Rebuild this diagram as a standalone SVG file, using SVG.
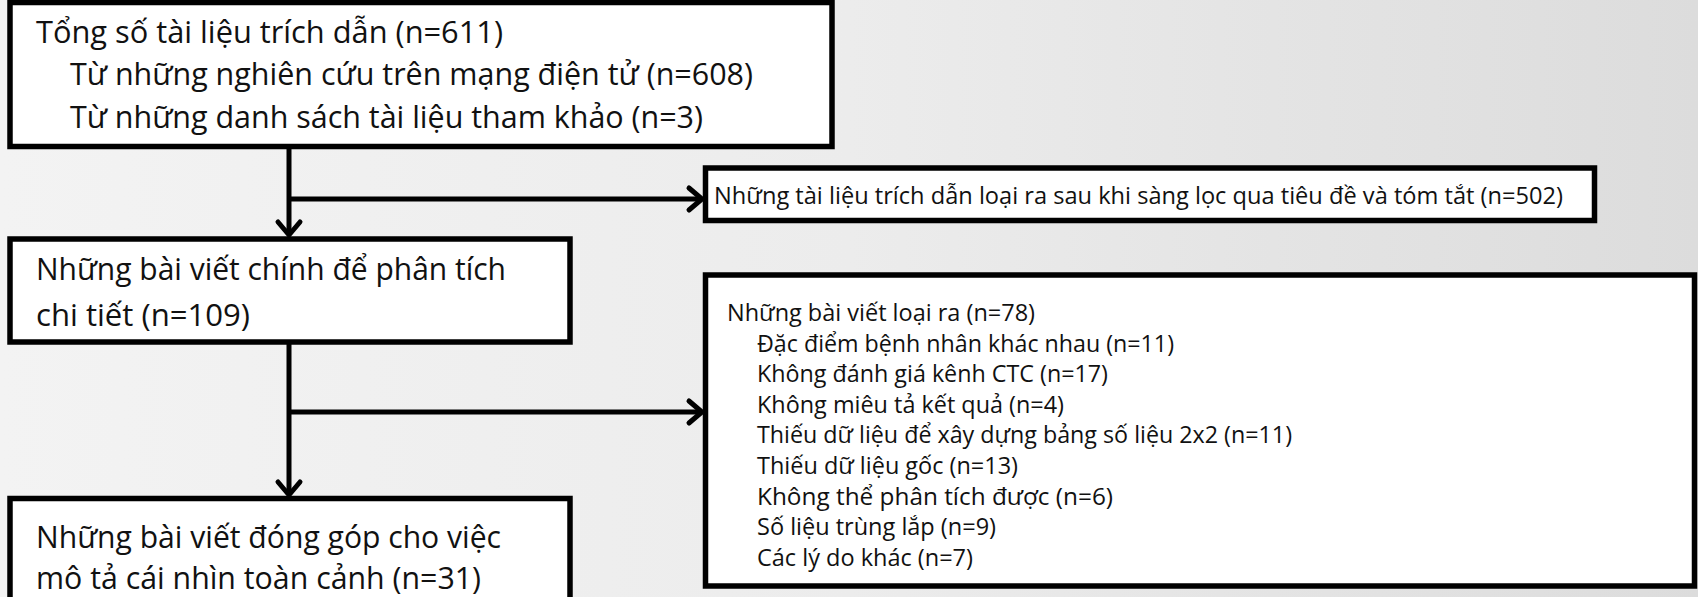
<svg xmlns="http://www.w3.org/2000/svg" width="1698" height="597" viewBox="0 0 1698 597">
<defs>
<linearGradient id="bg" x1="0" y1="0" x2="1" y2="0">
<stop offset="0" stop-color="#f3f3f3"/>
<stop offset="0.5" stop-color="#ececec"/>
<stop offset="1" stop-color="#dcdcdc"/>
</linearGradient>
<marker id="chev" markerUnits="userSpaceOnUse" markerWidth="40" markerHeight="40" refX="0" refY="0" viewBox="-20 -20 40 40" orient="auto" overflow="visible">
<path d="M -13 -11 L 0 0 L -13 11" fill="none" stroke="#000" stroke-width="5" stroke-linecap="round" stroke-linejoin="miter"/>
</marker>
<style>
.box{fill:#fff;stroke:#000;stroke-width:5.5}
.t{font-family:"Open Sans","Noto Sans","DejaVu Sans",sans-serif;fill:#111}
.big{font-size:31.5px}
.small{font-size:24px}
.conn{fill:none;stroke:#000;stroke-width:5}
</style>
</defs>
<rect x="0" y="0" width="1698" height="597" fill="url(#bg)"/>

<g id="connectors">
<line class="conn" x1="289" y1="148" x2="289" y2="235" marker-end="url(#chev)"/>
<line class="conn" x1="289" y1="199" x2="702" y2="199" marker-end="url(#chev)"/>
<line class="conn" x1="289" y1="344" x2="289" y2="495" marker-end="url(#chev)"/>
<line class="conn" x1="289" y1="412" x2="702" y2="412" marker-end="url(#chev)"/>
</g>

<g id="node-total">
<rect class="box" x="10" y="2.5" width="822" height="144"/>
<text class="t big" x="36" y="43" textLength="467" lengthAdjust="spacingAndGlyphs">Tổng số tài liệu trích dẫn (n=611)</text>
<text class="t big" x="70" y="85" textLength="683" lengthAdjust="spacingAndGlyphs">Từ những nghiên cứu trên mạng điện tử (n=608)</text>
<text class="t big" x="70" y="128" textLength="633" lengthAdjust="spacingAndGlyphs">Từ những danh sách tài liệu tham khảo (n=3)</text>
</g>

<g id="node-excluded-screening">
<rect class="box" x="705.5" y="168" width="889" height="52.5"/>
<text class="t small" x="714" y="204" textLength="849" lengthAdjust="spacingAndGlyphs">Những tài liệu trích dẫn loại ra sau khi sàng lọc qua tiêu đề và tóm tắt (n=502)</text>
</g>

<g id="node-fulltext">
<rect class="box" x="10" y="239" width="560" height="103"/>
<text class="t big" x="36" y="280" textLength="470" lengthAdjust="spacingAndGlyphs">Những bài viết chính để phân tích</text>
<text class="t big" x="36" y="326" textLength="214" lengthAdjust="spacingAndGlyphs">chi tiết (n=109)</text>
</g>

<g id="node-excluded-articles">
<rect class="box" x="705.5" y="275" width="989" height="311"/>
<text class="t small" x="727" y="321" textLength="308" lengthAdjust="spacingAndGlyphs">Những bài viết loại ra (n=78)</text>
<text class="t small" x="757" y="351.6" textLength="417" lengthAdjust="spacingAndGlyphs">Đặc điểm bệnh nhân khác nhau (n=11)</text>
<text class="t small" x="757" y="382.2" textLength="351" lengthAdjust="spacingAndGlyphs">Không đánh giá kênh CTC (n=17)</text>
<text class="t small" x="757" y="412.8" textLength="307" lengthAdjust="spacingAndGlyphs">Không miêu tả kết quả (n=4)</text>
<text class="t small" x="757" y="443.4" textLength="535" lengthAdjust="spacingAndGlyphs">Thiếu dữ liệu để xây dựng bảng số liệu 2x2 (n=11)</text>
<text class="t small" x="757" y="474" textLength="261" lengthAdjust="spacingAndGlyphs">Thiếu dữ liệu gốc (n=13)</text>
<text class="t small" x="757" y="504.6" textLength="356" lengthAdjust="spacingAndGlyphs">Không thể phân tích được (n=6)</text>
<text class="t small" x="757" y="535.2" textLength="239" lengthAdjust="spacingAndGlyphs">Số liệu trùng lắp (n=9)</text>
<text class="t small" x="757" y="565.8" textLength="216" lengthAdjust="spacingAndGlyphs">Các lý do khác (n=7)</text>
</g>

<g id="node-included">
<rect class="box" x="10" y="498.5" width="560" height="120"/>
<text class="t big" x="36" y="548" textLength="465" lengthAdjust="spacingAndGlyphs">Những bài viết đóng góp cho việc</text>
<text class="t big" x="36" y="589" textLength="445" lengthAdjust="spacingAndGlyphs">mô tả cái nhìn toàn cảnh (n=31)</text>
</g>
</svg>
